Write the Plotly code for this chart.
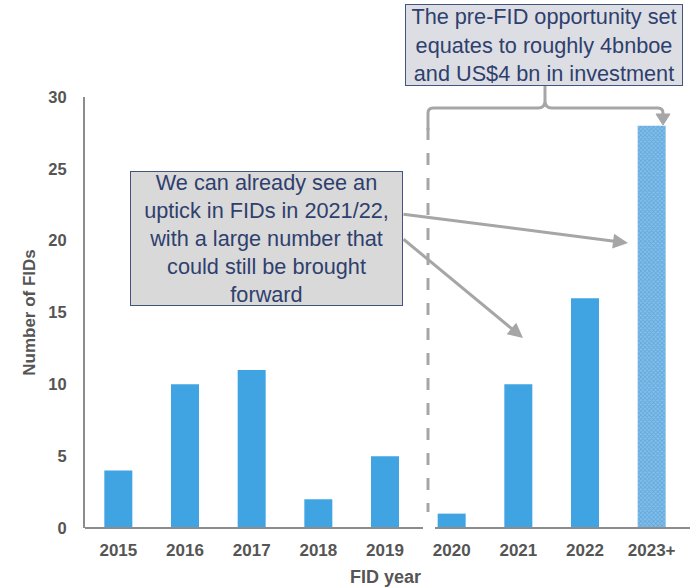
import plotly.graph_objects as go

categories = ["2015", "2016", "2017", "2018", "2019", "2020", "2021", "2022", "2023+"]
fids = [4, 10, 11, 2, 5, 1, 10, 16, 28]
y_ticks = [0, 5, 10, 15, 20, 25, 30]

BAR = "#3fa4e1"
GREY = "#a6a6a6"
AXIS = "#8c8c8c"
TXT = "#555555"
BOXTXT = "#2f3f6e"
FONT = "Liberation Sans, Arial, sans-serif"

# layout in pixels
W, H = 693, 587
L, R, T, B = 85, 8, 97, 59
PW, PH = W - L - R, H - T - B


def px(x):
    return (x - L) / PW


def py(y):
    return (H - B - y) / PH


shapes_pattern = [""] * (len(categories) - 1) + ["x"]

fig = go.Figure()
fig.add_trace(go.Bar(
    x=categories, y=fids,
    marker=dict(
        color=BAR, line=dict(width=0),
        pattern=dict(shape=shapes_pattern, fgcolor="#3a92d4", bgcolor="#86bfe9",
                     size=3, solidity=0.5),
    ),
    hoverinfo="x+y",
))

shapes = []
# x-axis baseline with a break
shapes.append(dict(type="line", xref="paper", yref="paper", x0=px(85), x1=px(423), y0=0, y1=0,
                   line=dict(color=AXIS, width=2)))
shapes.append(dict(type="line", xref="paper", yref="paper", x0=px(435), x1=px(690), y0=0, y1=0,
                   line=dict(color=AXIS, width=2)))
# dashed divider
shapes.append(dict(type="line", xref="paper", yref="paper", x0=px(428), x1=px(428), y0=py(128), y1=py(512),
                   line=dict(color=GREY, width=3, dash="12px,13px")))
# bracket
pts = [
    ("M", 428, 130), ("L", 428, 113), ("Q", 428, 108, 433, 108), ("L", 538, 108),
    ("Q", 545, 108, 545, 101), ("L", 545, 85), ("M", 545, 101), ("Q", 545, 108, 552, 108),
    ("L", 658, 108), ("Q", 663, 108, 663, 113), ("L", 663, 116),
]
path = ""
for p in pts:
    cmd = p[0]
    coords = p[1:]
    s = []
    for i in range(0, len(coords), 2):
        s.append(f"{px(coords[i]):.5f},{py(coords[i+1]):.5f}")
    path += cmd + " " + " ".join(s) + " "
shapes.append(dict(type="path", xref="paper", yref="paper", path=path,
                   line=dict(color=GREY, width=3)))
# arrowhead on the right end of the bracket
tri = f"M {px(656):.5f},{py(114):.5f} L {px(670):.5f},{py(114):.5f} L {px(663):.5f},{py(125):.5f} Z"
shapes.append(dict(type="path", xref="paper", yref="paper", path=tri,
                   fillcolor=GREY, line=dict(color=GREY, width=1)))

annotations = [
    dict(text="The pre-FID opportunity set<br>equates to roughly 4bnboe<br>and US$4 bn in investment",
         xref="paper", yref="paper", x=px(544), y=py(45), xanchor="center", yanchor="middle",
         showarrow=False, font=dict(family=FONT, size=21.7, color=BOXTXT),
         bgcolor="#dcdee3", bordercolor="#41557f", borderwidth=1, borderpad=2,
         width=272, height=76, align="center"),
    dict(text="We can already see an<br>uptick in FIDs in 2021/22,<br>with a large number that<br>could still be brought<br>forward",
         xref="paper", yref="paper", x=px(266.5), y=py(238.5), xanchor="center", yanchor="middle",
         showarrow=False, font=dict(family=FONT, size=21.7, color=BOXTXT),
         bgcolor="#d9d9d9", bordercolor="#41557f", borderwidth=1, borderpad=2,
         width=267, height=129, align="center"),
    # arrows
    dict(text="", xref="paper", yref="paper", x=px(628), y=py(243), ax=402 - 628, ay=214 - 243,
         axref="pixel", ayref="pixel", showarrow=True, arrowhead=2, arrowsize=1, arrowwidth=3,
         arrowcolor=GREY),
    dict(text="", xref="paper", yref="paper", x=px(523), y=py(338), ax=402 - 523, ay=238 - 338,
         axref="pixel", ayref="pixel", showarrow=True, arrowhead=2, arrowsize=1, arrowwidth=3,
         arrowcolor=GREY),
    # x axis title
    dict(text="FID year", xref="paper", yref="paper", x=0.5, y=py(577), xanchor="center",
         yanchor="middle", showarrow=False, font=dict(family=FONT, size=18, color=TXT, weight="bold")),
]

fig.update_layout(
    width=W, height=H,
    margin=dict(l=L, r=R, t=T, b=B, pad=0),
    paper_bgcolor="white", plot_bgcolor="white",
    showlegend=False, bargap=0.58,
    shapes=shapes, annotations=annotations,
    font=dict(family=FONT, color=TXT),
    xaxis=dict(showline=False, showgrid=False, zeroline=False, ticks="",
               tickfont=dict(family=FONT, size=17, color=TXT, weight="bold"),
               ticklabelstandoff=10, range=[-0.5, 8.5]),
    yaxis=dict(range=[0, 30], tickvals=y_ticks, showgrid=False, zeroline=False,
               showline=True, linecolor=AXIS, linewidth=2, ticks="",
               tickfont=dict(family=FONT, size=16.5, color=TXT, weight="bold"),
               ticklabelstandoff=13,
               title=dict(text="Number of FIDs", standoff=8,
                          font=dict(family=FONT, size=17, color=TXT, weight="bold"))),
)

fig.write_html("out.html")
